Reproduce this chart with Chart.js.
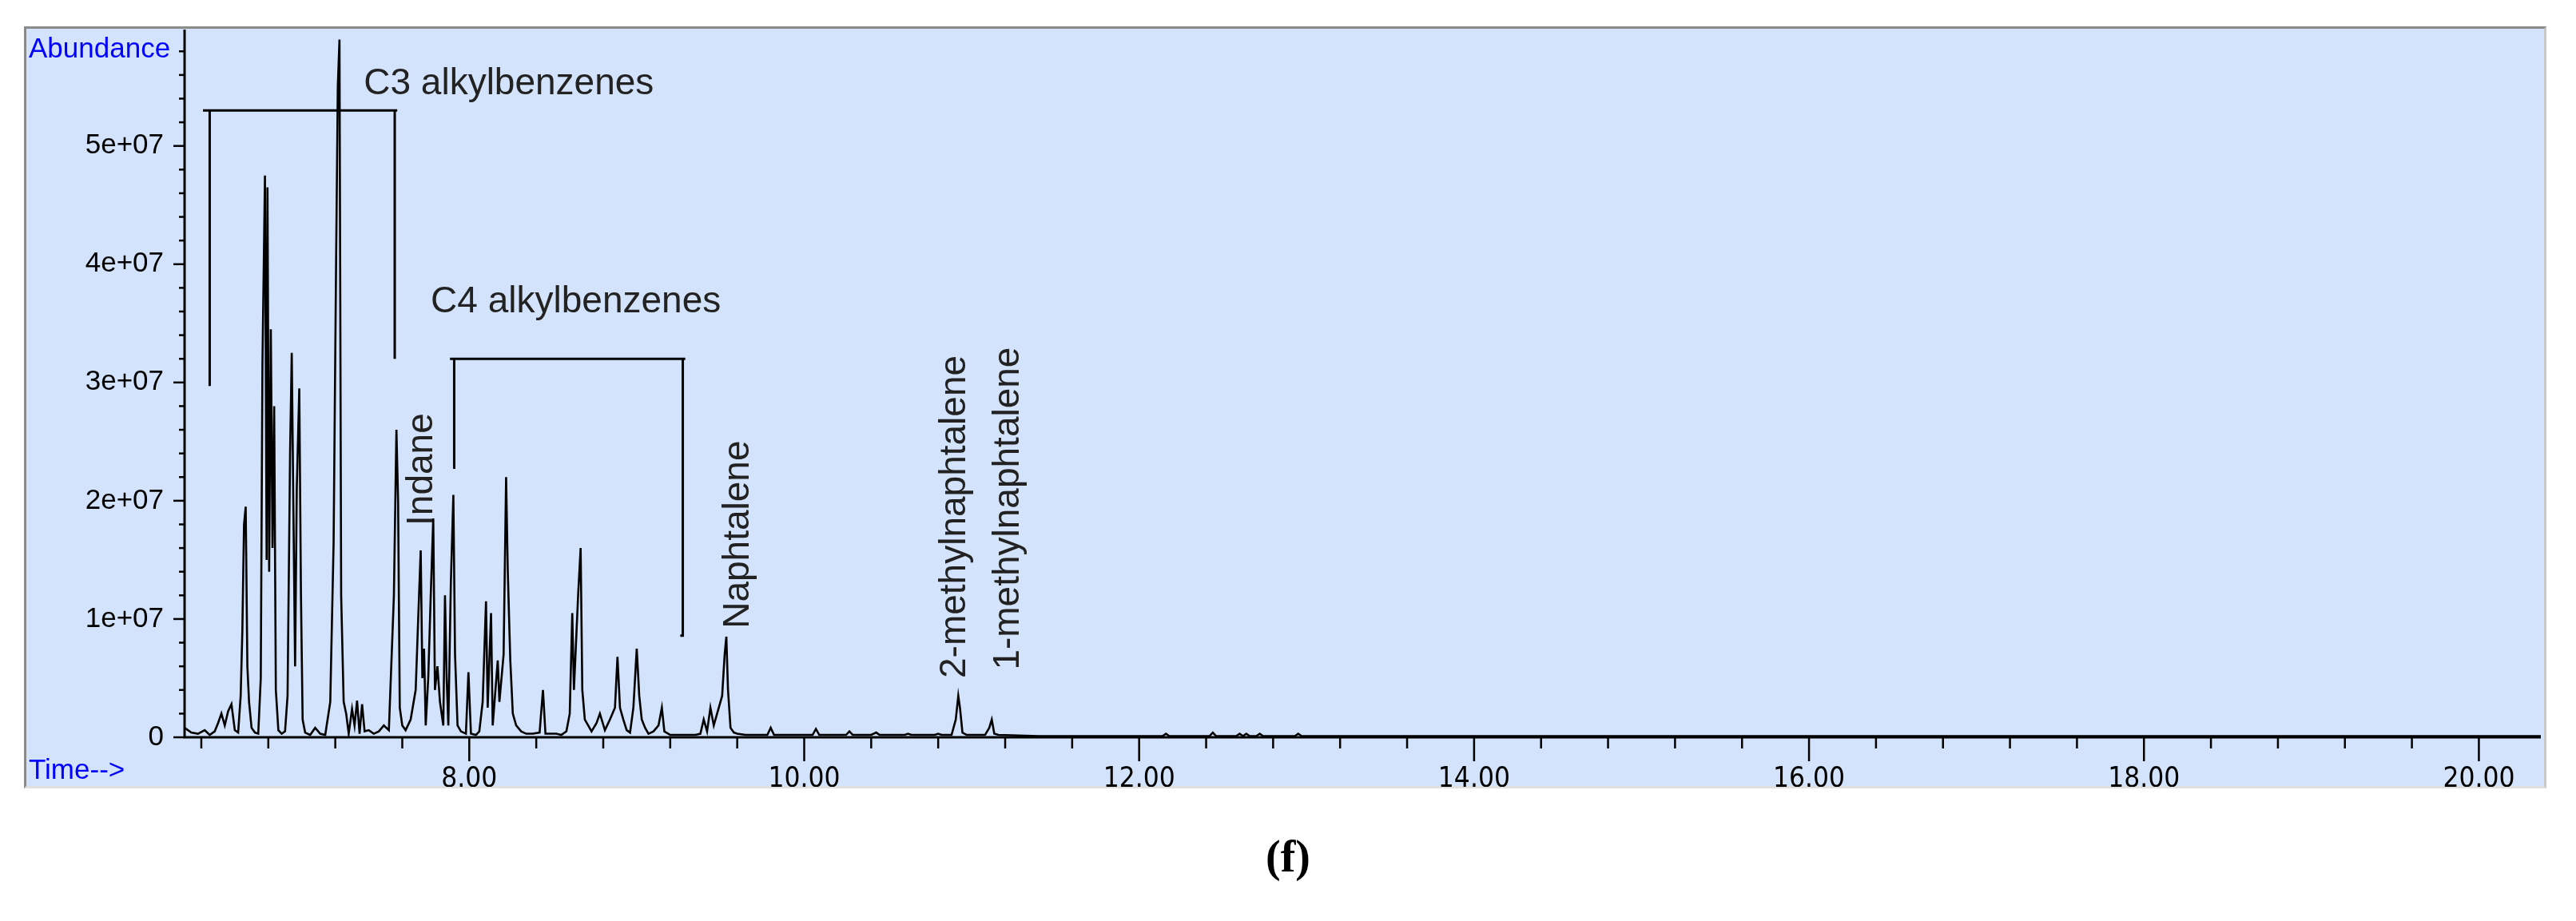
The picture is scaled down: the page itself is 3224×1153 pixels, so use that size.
<!DOCTYPE html>
<html><head><meta charset="utf-8">
<script src="https://cdn.jsdelivr.net/npm/chart.js@4"></script>
<style>html,body{margin:0;padding:0;background:#fff}#wrap{position:relative;width:3224px;height:1153px}
#frame{position:absolute;left:30px;top:33px;width:3151px;height:948px;border:3px solid #8a8a8a;border-right-color:#c8c8c8;border-bottom-color:#e0e0e0;background:#d3e3fb}
#fig{position:absolute;left:0;width:3224px;top:1040px;text-align:center;font:bold 56px "Liberation Serif",serif}
canvas{position:absolute;left:0;top:0}</style></head>
<body><div id="wrap"><div id="frame"></div><canvas id="c" width="3224" height="1153"></canvas><div id="fig">(f)</div></div>
<script>
// chromatogram trace: [retention time (min), abundance (millions of counts)]
const trace = [
[6.30,0.8],[6.34,0.4],[6.38,0.3],[6.42,0.6],[6.45,0.2],[6.48,0.5],[6.50,1.2],[6.52,2.0],[6.54,1.0],[6.56,2.2],[6.58,2.8],[6.60,0.6],
[6.62,0.4],[6.635,3.5],[6.645,9],[6.655,18],[6.665,19.5],[6.675,6],[6.685,3],[6.70,0.8],[6.72,0.4],
[6.74,0.3],[6.755,5],[6.765,31.5],[6.78,47.5],[6.79,15],[6.795,46.5],[6.805,14],[6.815,34.5],[6.825,16],[6.835,28],[6.845,4],[6.86,0.6],
[6.88,0.3],[6.90,0.5],[6.915,3.5],[6.93,24],[6.94,32.5],[6.95,19],[6.96,6],[6.97,21],[6.985,29.5],[6.995,12],[7.005,1.5],[7.02,0.4],
[7.05,0.2],[7.08,0.8],[7.11,0.3],[7.14,0.2],[7.17,3.0],[7.19,16.5],[7.205,40.5],[7.215,55],[7.225,59],[7.235,12],[7.25,3],[7.265,2.0],
[7.28,0.3],[7.30,2.4],[7.315,1.0],[7.33,3.1],[7.345,0.3],[7.36,2.8],[7.375,0.5],[7.40,0.6],[7.43,0.3],[7.46,0.5],[7.49,1.0],[7.52,0.6],
[7.55,12],[7.565,26],[7.575,20],[7.585,2.5],[7.60,1.0],[7.62,0.6],[7.65,1.5],[7.68,4.0],[7.695,10],[7.71,15.8],[7.72,5],[7.73,7.5],[7.74,1],
[7.755,5],[7.77,12],[7.785,18.5],[7.795,4],[7.81,6],[7.825,3],[7.845,1],[7.855,12],[7.865,5],[7.875,1],[7.89,13],[7.905,20.5],[7.915,7],[7.93,1],[7.95,0.5],
[7.98,0.3],[7.995,5.5],[8.01,0.3],[8.04,0.2],[8.06,0.5],[8.08,3],[8.10,11.5],[8.11,2.5],[8.13,10.5],[8.14,1],[8.17,6.5],[8.18,3],[8.205,7],[8.22,22],
[8.23,14],[8.245,6.5],[8.26,2],[8.28,1.0],[8.31,0.5],[8.34,0.3],[8.38,0.3],[8.42,0.4],[8.44,4],[8.455,0.3],[8.48,0.3],[8.52,0.3],
[8.55,0.2],[8.58,0.5],[8.60,2],[8.615,10.5],[8.625,4],[8.65,12],[8.665,16],[8.675,4],[8.69,1.5],[8.71,1.0],[8.73,0.5],[8.76,1.2],
[8.78,2.0],[8.81,0.6],[8.84,1.5],[8.87,2.5],[8.885,6.8],[8.90,2.5],[8.92,1.5],[8.94,0.6],[8.96,0.4],[8.98,2.5],[9.00,7.5],[9.015,3.5],[9.03,1.5],[9.05,0.8],
[9.07,0.3],[9.10,0.5],[9.13,1.0],[9.15,2.5],[9.165,0.5],[9.20,0.2],[9.25,0.2],[9.30,0.2],[9.35,0.2],[9.38,0.3],[9.40,1.5],[9.42,0.5],
[9.44,2.5],[9.46,1],[9.51,3.5],[9.525,7],[9.535,8.5],[9.545,4],[9.56,0.8],[9.58,0.4],[9.60,0.3],[9.65,0.2],[9.70,0.2],[9.78,0.2],
[9.80,0.8],[9.82,0.2],[9.90,0.2],[10.00,0.2],[10.05,0.2],[10.07,0.7],[10.09,0.2],[10.20,0.2],[10.25,0.2],[10.27,0.5],[10.29,0.2],
[10.40,0.2],[10.43,0.4],[10.45,0.2],[10.60,0.2],[10.62,0.3],[10.64,0.2],[10.78,0.2],[10.80,0.3],[10.82,0.2],[10.88,0.2],[10.905,1.5],
[10.92,3.5],[10.93,2.5],[10.945,0.4],[10.97,0.2],[11.08,0.2],[11.105,0.8],[11.12,1.5],[11.135,0.3],[11.16,0.2],[11.40,0.1],[11.80,0.1],
[12.14,0.1],[12.16,0.3],[12.18,0.1],[12.42,0.1],[12.44,0.4],[12.46,0.1],[12.58,0.1],[12.60,0.3],[12.62,0.1],[12.64,0.3],[12.66,0.1],
[12.70,0.1],[12.72,0.3],[12.74,0.1],[12.93,0.1],[12.95,0.3],[12.97,0.1],[13.20,0.1],[15.00,0.1],[18.00,0.1],[20.37,0.1]];
const yTickValues = [0,1e7,2e7,3e7,4e7,5e7];
const yTickLabels = ["0","1e+07","2e+07","3e+07","4e+07","5e+07"];
const xTickValues = [8,10,12,14,16,18,20];
const xTickLabels = ["8.00","10.00","12.00","14.00","16.00","18.00","20.00"];
// bracket annotations: [time, abundance (millions)] polylines
const bracketC3 = [[6.45,29.7],[6.45,53],[6.41,53],[7.57,53],[7.555,53],[7.555,32]];
const bracketC4 = [[7.91,22.7],[7.91,32],[7.885,32],[9.29,32],[9.275,32],[9.275,8.6],[9.26,8.6]];
// text annotations: [text, time, abundance (millions), rotated]
const labels = [["C3 alkylbenzenes",7.37,55.2,false],["C4 alkylbenzenes",7.77,36.8,false],["Indane",7.72,17.9,true],["Naphtalene",9.61,9.2,true],["2-methylnaphtalene",10.90,5.0,true],["1-methylnaphtalene",11.22,5.7,true]];

const pts = trace.map(p=>({x:p[0],y:p[1]*1e6}));
const deco = {id:'deco', afterDatasetsDraw(ch){
  const c=ch.ctx,xs=ch.scales.x,ys=ch.scales.y,a=ch.chartArea;
  c.save(); c.strokeStyle='#000'; c.lineWidth=3;
  const y0=ys.getPixelForValue(0);
  c.beginPath(); c.moveTo(a.left,a.top-8); c.lineTo(a.left,y0); c.lineTo(a.right,y0); c.stroke();
  c.lineWidth=2.5;
  for(let v=0;v<=5.8e7;v+=2e6){const y=ys.getPixelForValue(v);const L=(v%1e7===0)?14:7;c.beginPath();c.moveTo(a.left-L,y);c.lineTo(a.left,y);c.stroke();}
  for(let t=6.4;t<=20.37;t+=0.4){const x=xs.getPixelForValue(t);const maj=Math.abs(t/2-Math.round(t/2))<0.01;c.beginPath();c.moveTo(x,y0);c.lineTo(x,y0+(maj?30:14));c.stroke();}
  c.lineWidth=3;
  for(const b of [bracketC3,bracketC4]){c.beginPath();b.forEach((p,i)=>{const x=xs.getPixelForValue(p[0]),y=ys.getPixelForValue(p[1]*1e6);i?c.lineTo(x,y):c.moveTo(x,y);});c.stroke();}
  c.fillStyle='#222'; c.font='46px "Liberation Sans",Arial,sans-serif';
  for(const [s,t,v,r] of labels){const x=xs.getPixelForValue(t),y=ys.getPixelForValue(v*1e6);
    if(r){c.save();c.translate(x,y);c.rotate(-Math.PI/2);c.textAlign='left';c.textBaseline='middle';c.fillText(s,0,0);c.restore();}
    else{c.textAlign='left';c.textBaseline='middle';c.fillText(s,x,y);}}
  c.fillStyle='#0000ff'; c.font='35px "Liberation Sans",Arial,sans-serif'; c.textBaseline='middle'; c.textAlign='left';
  c.fillText('Abundance',36,62); c.fillText('Time-->',36,965);
  c.restore();}};
new Chart(document.getElementById('c'),{type:'line',
 data:{datasets:[{data:pts,borderColor:'#000',borderWidth:2.6,pointRadius:0,tension:0,fill:false}]},
 options:{responsive:false,animation:false,events:[],
  layout:{padding:{left:30,right:44,top:45,bottom:168}},
  plugins:{legend:{display:false},tooltip:{enabled:false}},
  scales:{
   x:{type:'linear',min:6.3,max:20.37,grid:{display:false},border:{display:false},
      afterFit(s){s.height=62;},
      afterBuildTicks(s){s.ticks=xTickValues.map(v=>({value:v}));},
      ticks:{padding:24,color:'#000',font:{family:'"Liberation Sans Narrow","DejaVu Sans Condensed",sans-serif',size:35},callback:(v)=>xTickLabels[xTickValues.indexOf(v)]}},
   y:{min:0,max:5.93e7,grid:{display:false},border:{display:false},
      afterFit(s){s.width=201;},
      afterBuildTicks(s){s.ticks=yTickValues.map(v=>({value:v}));},
      ticks:{padding:18,color:'#000',font:{family:'"Liberation Sans",Arial,sans-serif',size:35},callback:(v)=>yTickLabels[yTickValues.indexOf(v)]}}
  }},plugins:[deco]});
</script></body></html>
